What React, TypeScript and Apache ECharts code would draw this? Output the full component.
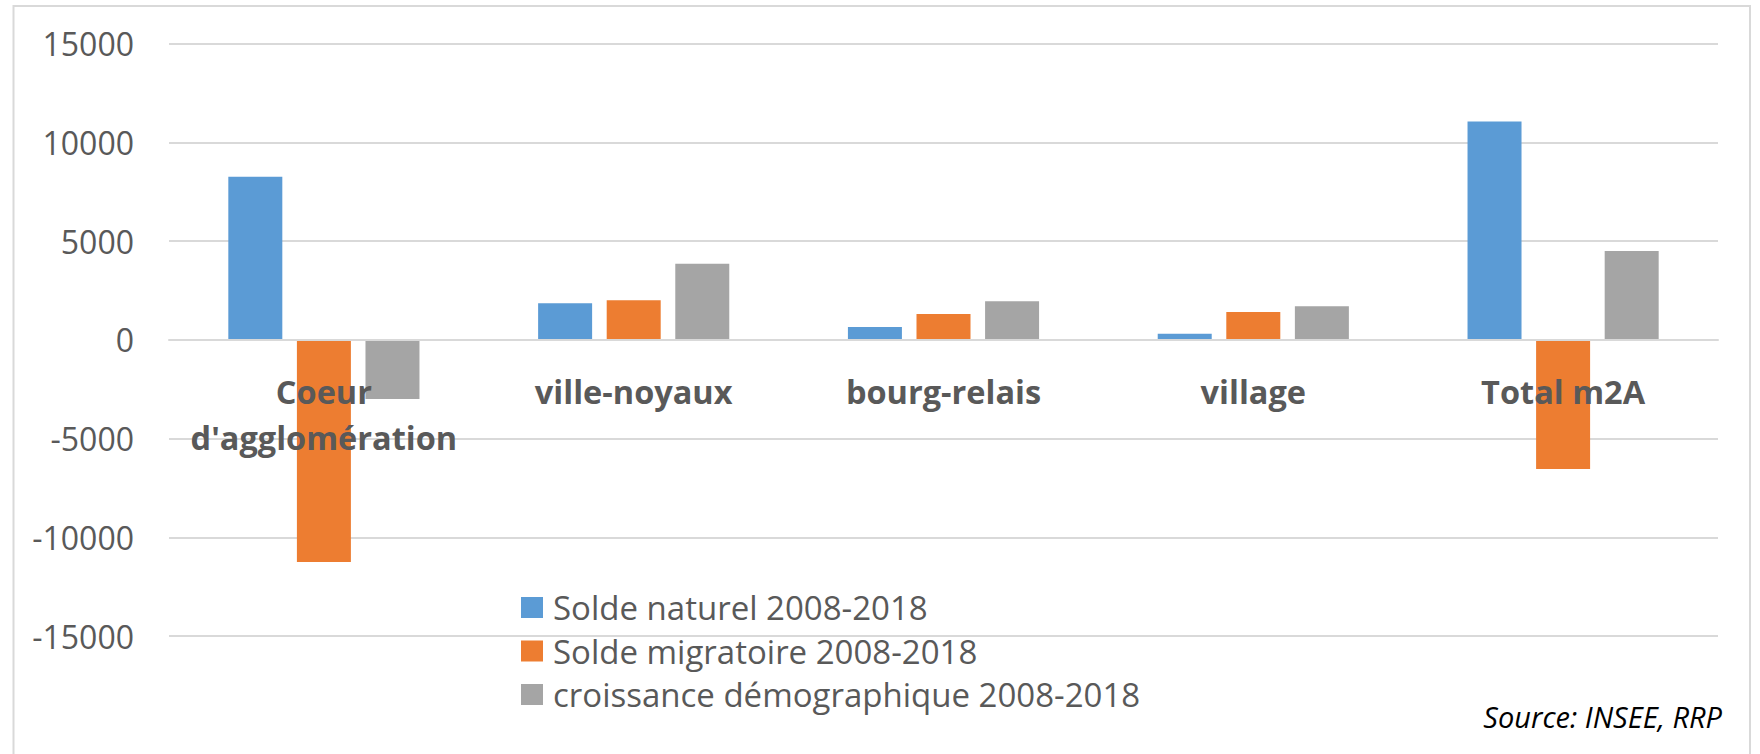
import React, { useEffect, useRef } from "react";
import * as echarts from "echarts";

const categories = ["Coeur\nd'agglomération", "ville-noyaux", "bourg-relais", "village", "Total m2A"];
const seriesNames = [
  "Solde naturel 2008-2018",
  "Solde migratoire 2008-2018",
  "croissance démographique 2008-2018",
];
const soldeNaturel = [8250, 1850, 650, 300, 11050];
const soldeMigratoire = [-11250, 2000, 1300, 1400, -6550];
const croissance = [-3000, 3850, 1950, 1700, 4500];
const colors = ["#5B9BD5", "#ED7D31", "#A5A5A5"];
const yMin = -15000;
const yMax = 15000;
const yInterval = 5000;
const sourceText = "Source: INSEE, RRP";

const FONT = "'Open Sans', 'Noto Sans', sans-serif";

export default function App() {
  const ref = useRef<HTMLDivElement>(null);
  useEffect(() => {
    if (!ref.current) return;
    const chart = echarts.init(ref.current, undefined, { renderer: "svg" });
    const values = [soldeNaturel, soldeMigratoire, croissance];
    const gridTop = 43.5;
    const gridBottom = 118;
    const plotH = 754 - gridTop - gridBottom;
    const zeroOffset = (plotH * (0 - yMin)) / (yMax - yMin);
    chart.setOption({
      animation: false,
      backgroundColor: "#ffffff",
      textStyle: { fontFamily: FONT },
      grid: { left: 169, right: 42, top: gridTop, bottom: gridBottom, containLabel: false },
      legend: {
        orient: "vertical",
        left: 516,
        top: 586,
        icon: "rect",
        itemWidth: 22,
        itemHeight: 21,
        itemGap: 10.5,
        data: seriesNames,
        textStyle: {
          fontFamily: FONT,
          fontSize: 33,
          lineHeight: 30,
          color: "#595959",
          padding: [0, 0, 0, 5],
        },
      },
      xAxis: {
        type: "category",
        position: "bottom",
        offset: -zeroOffset,
        z: 10,
        data: categories,
        axisLine: { onZero: false, lineStyle: { color: "#d9d9d9", width: 2 } },
        axisTick: { show: false },
        axisLabel: {
          interval: 0,
          margin: 29,
          fontFamily: FONT,
          fontSize: 32.5,
          fontWeight: "bold",
          lineHeight: 46,
          color: "#595959",
        },
      },
      yAxis: {
        type: "value",
        min: yMin,
        max: yMax,
        interval: yInterval,
        axisLine: { show: false },
        axisTick: { show: false },
        splitLine: { lineStyle: { color: "#d9d9d9", width: 2 } },
        axisLabel: {
          margin: 35,
          fontFamily: FONT,
          fontSize: 32,
          color: "#595959",
          formatter: (v: number) => String(v),
        },
      },
      series: seriesNames.map((name, i) => ({
        name,
        type: "bar",
        data: values[i],
        barWidth: 54,
        barGap: "27%",
        z: 2,
        itemStyle: { color: colors[i] },
      })),
      graphic: [
        {
          type: "rect",
          shape: { x: 13.5, y: 6, width: 1736.5, height: 800 },
          style: { fill: "none", stroke: "#d9d9d9", lineWidth: 2 },
          silent: true,
        },
        {
          type: "text",
          x: 1722,
          y: 716,
          style: {
            text: sourceText,
            fontFamily: FONT,
            fontStyle: "italic",
            fontSize: 29,
            fill: "#000000",
            align: "right",
            verticalAlign: "middle",
          },
        },
      ],
    });
    return () => chart.dispose();
  }, []);
  return (
    <div
      ref={ref}
      style={{ position: "absolute", left: 0, top: 0, width: 1760, height: 754 }}
    />
  );
}
